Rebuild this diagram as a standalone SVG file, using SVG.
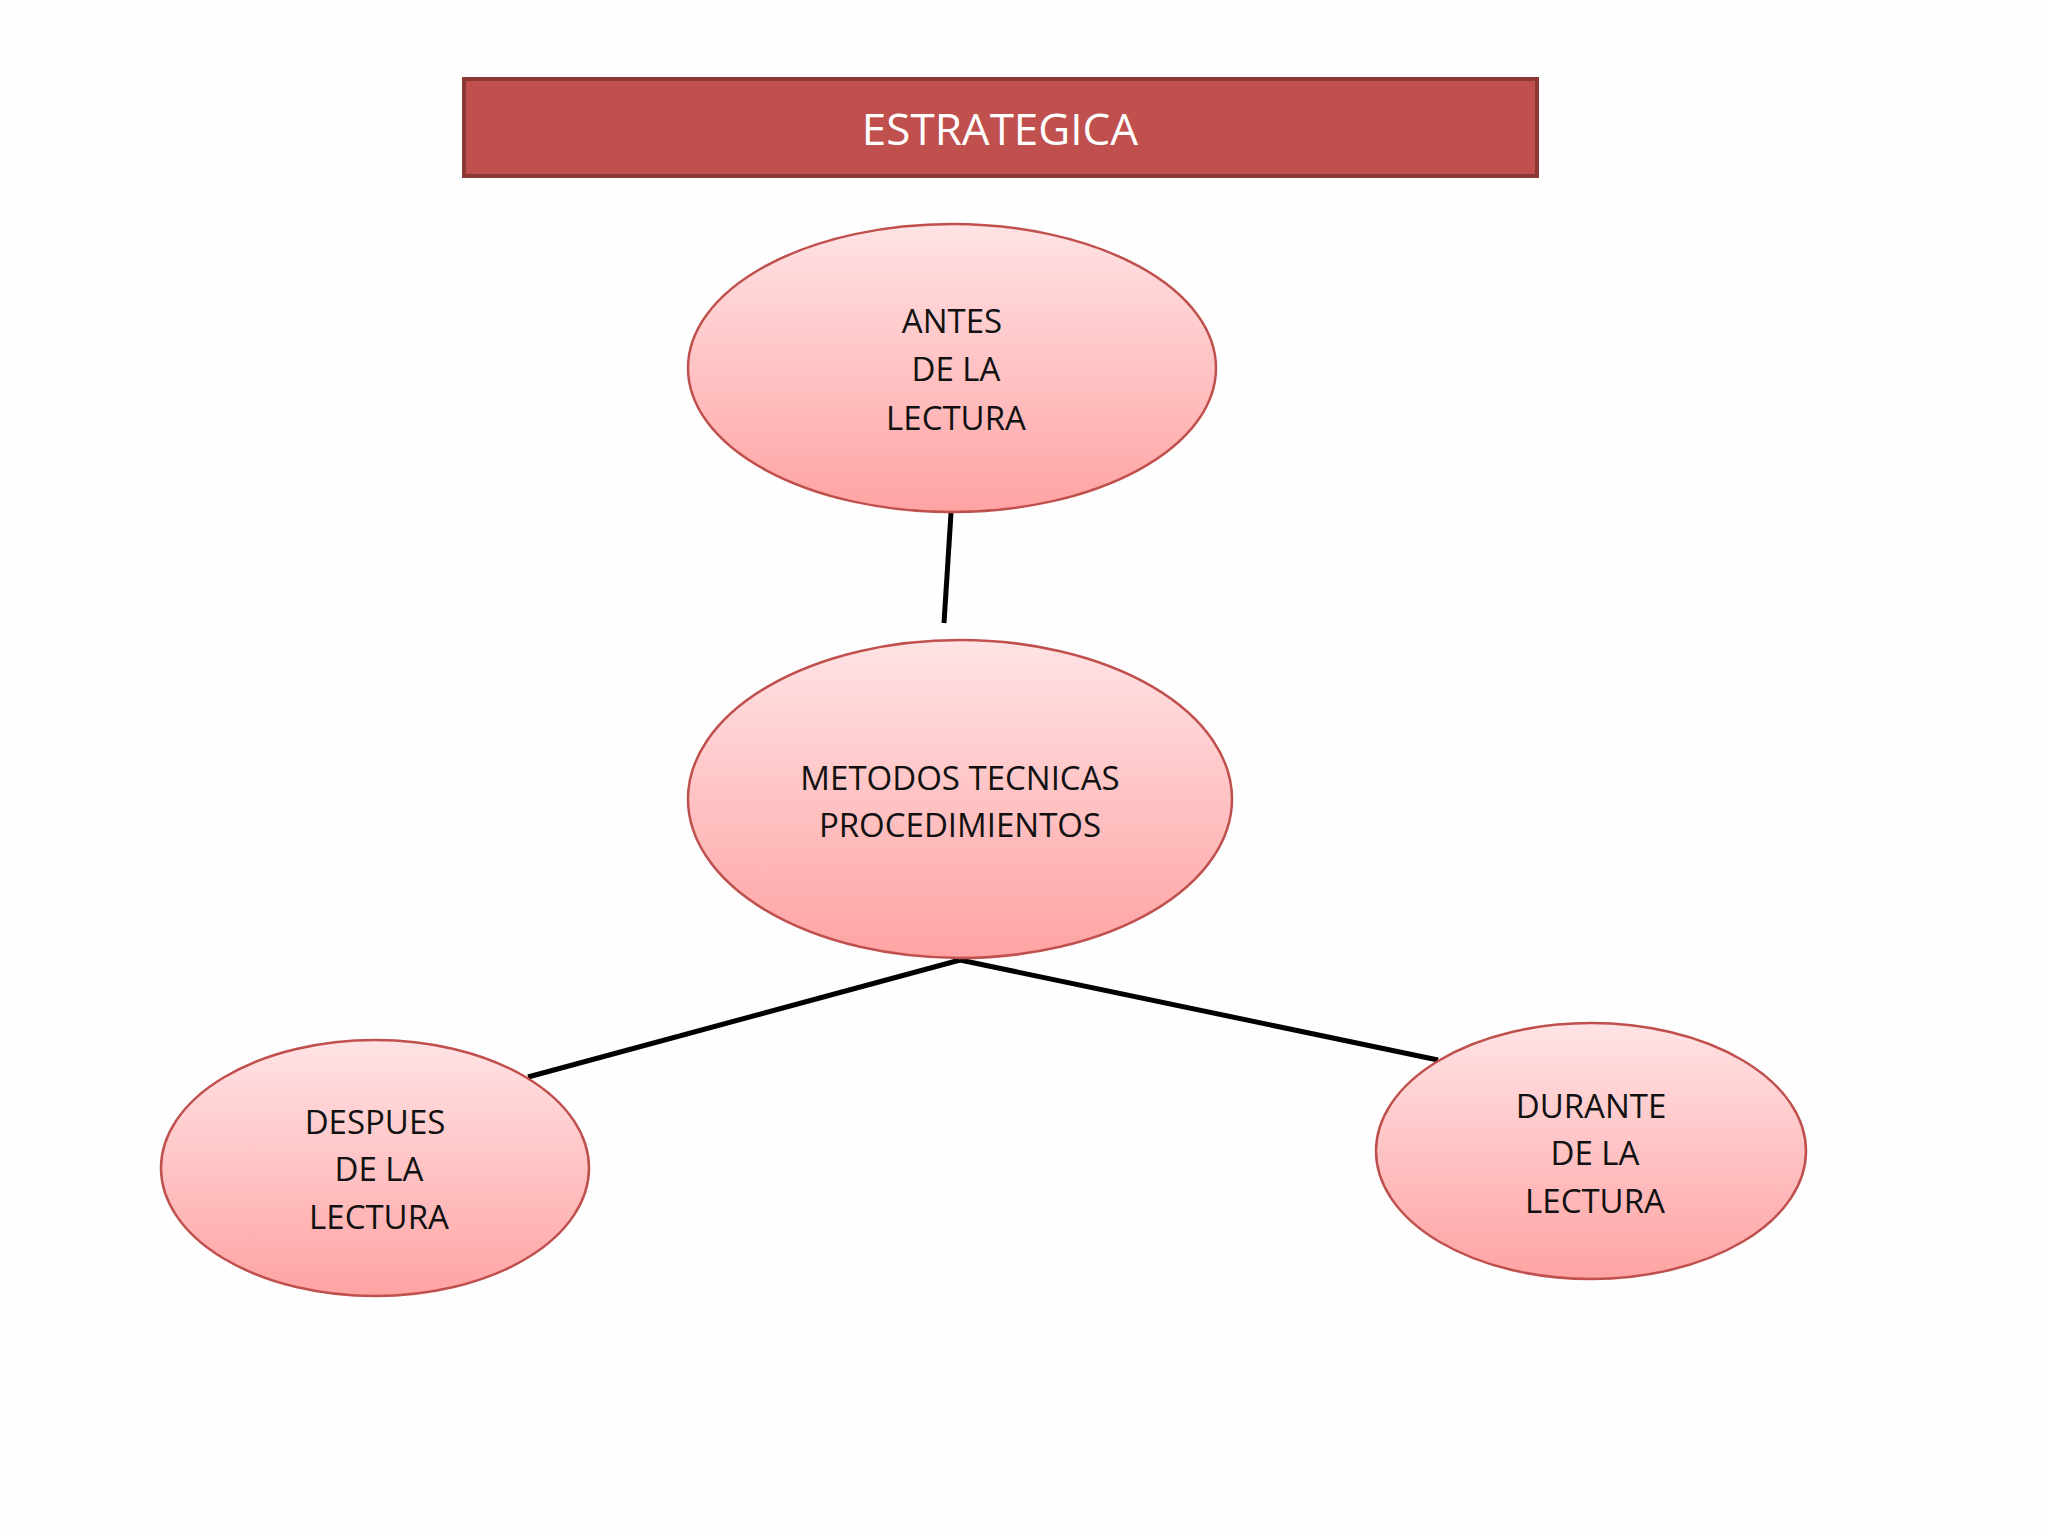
<svg xmlns="http://www.w3.org/2000/svg" width="2048" height="1536" viewBox="0 0 2048 1536">
<defs>
<linearGradient id="g" x1="0" y1="0" x2="0" y2="1">
<stop offset="0" stop-color="#ffe3e5"/><stop offset="1" stop-color="#ffa3a3"/>
</linearGradient>
</defs>
<style>
.n{fill:url(#g);stroke:#c0504d;stroke-width:2.5}
.t{font-family:"Open Sans","Liberation Sans",sans-serif;font-size:33px;fill:#111;text-anchor:middle;dominant-baseline:central}
.c{stroke:#000;stroke-width:5;fill:none}
</style>
<rect width="2048" height="1536" fill="#fefefe"/>
<g id="title"><rect x="464" y="79" width="1073" height="97" fill="#c0504d" stroke="#8c3836" stroke-width="4"/>
<text class="t" x="1000" y="128" style="font-size:44px;fill:#fff">ESTRATEGICA</text></g>
<g id="connectors">
<line class="c" x1="951" y1="513" x2="944" y2="623"/>
<line class="c" x1="960" y1="960" x2="528" y2="1077"/>
<line class="c" x1="960" y1="960" x2="1438" y2="1060"/>
</g>
<g id="antes"><ellipse class="n" cx="952" cy="368" rx="264" ry="144"/>
<text class="t" x="952" y="320">ANTES</text><text class="t" x="956" y="368">DE LA</text><text class="t" x="956" y="417">LECTURA</text></g>
<g id="metodos"><ellipse class="n" cx="960" cy="799" rx="272" ry="159"/>
<text class="t" x="960" y="777">METODOS TECNICAS</text><text class="t" x="960" y="824">PROCEDIMIENTOS</text></g>
<g id="despues"><ellipse class="n" cx="375" cy="1168" rx="214" ry="128"/>
<text class="t" x="375" y="1121">DESPUES</text><text class="t" x="379" y="1168">DE LA</text><text class="t" x="379" y="1216">LECTURA</text></g>
<g id="durante"><ellipse class="n" cx="1591" cy="1151" rx="215" ry="128"/>
<text class="t" x="1591" y="1105">DURANTE</text><text class="t" x="1595" y="1152">DE LA</text><text class="t" x="1595" y="1200">LECTURA</text></g>
</svg>
